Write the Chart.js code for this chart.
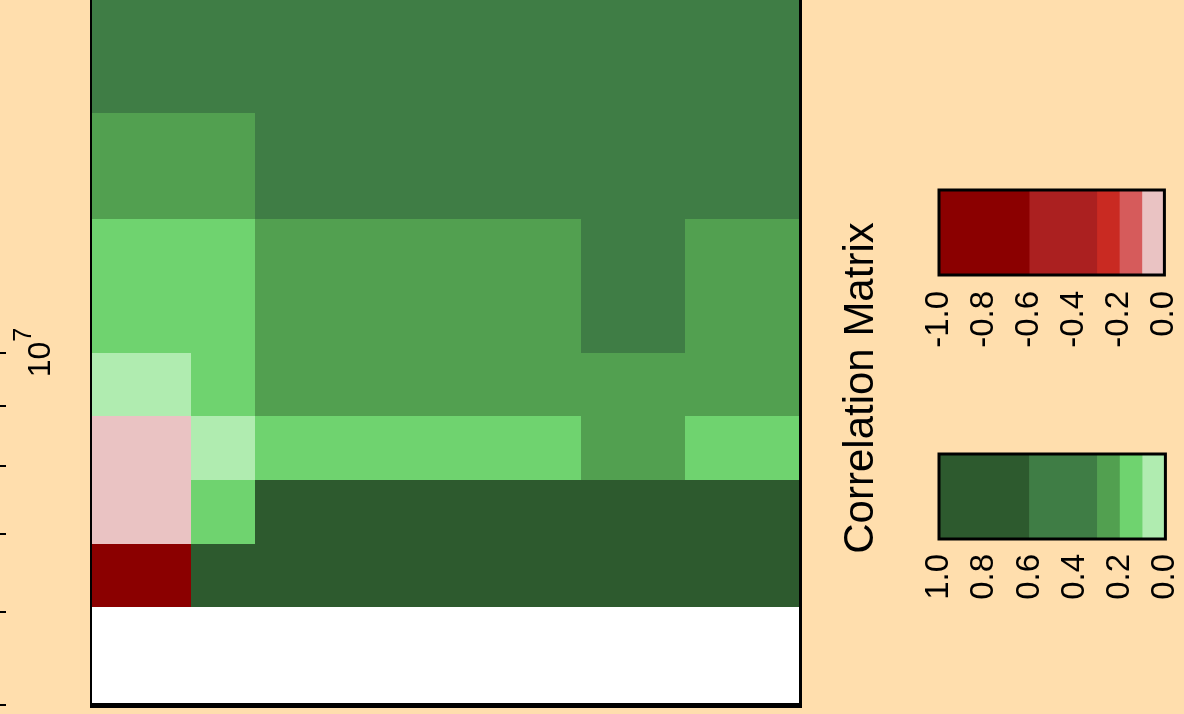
<!DOCTYPE html>
<html>
<head>
<meta charset="utf-8">
<title>Correlation Matrix</title>
<script src="https://cdn.jsdelivr.net/npm/chart.js@4.4.1/dist/chart.umd.min.js"></script>
<style>
    html, body { margin: 0; padding: 0; background: #ffdead; overflow: hidden; }
    #wrap { position: relative; width: 1184px; height: 714px; overflow: hidden; }
    canvas { position: absolute; }
    #main { left: 0; top: 0; }
    #keyNeg { left: 900px; top: 170px; }
    #keyPos { left: 900px; top: 434px; }
</style>
</head>
<body>
<div id="wrap">
    <canvas id="main" width="1184" height="714"></canvas>
    <canvas id="keyNeg" width="320" height="200"></canvas>
    <canvas id="keyPos" width="320" height="200"></canvas>
</div>
<script>
const FONT = '"Liberation Sans", Arial, Helvetica, sans-serif';

// heatmap grid: x in % of the panel width, y on the log axis
const colEdges = [0, 14, 23, 69, 83.8, 100];
const rowEdges = [6.06e6, 6.86e6, 7.78e6, 8.82e6, 1.0e7, 1.3e7, 1.6e7, 2.0e7];

// one row per band, bottom band first
const corrRows = [
    [-0.75, 0.8, 0.85, 0.85, 0.8],
    [-0.05, 0.15, 0.7, 0.7, 0.7],
    [-0.05, 0.05, 0.15, 0.25, 0.15],
    [0.05, 0.15, 0.25, 0.25, 0.25],
    [0.15, 0.15, 0.25, 0.45, 0.25],
    [0.25, 0.25, 0.45, 0.45, 0.45],
    [0.45, 0.45, 0.45, 0.45, 0.45]
];

const colourBreaks = [-1, -0.6, -0.3, -0.2, -0.1, 0, 0.1, 0.2, 0.3, 0.6, 1];
const colourFills = ['#8b0000', '#ab2020', '#c92a22', '#d65b5b', '#eac3c3',
                     '#b0ecb0', '#6fd36f', '#52a050', '#3f7d45', '#2d5a2e'];

// left axis (log scale)
const axisTicks = [5e6, 6e6, 7e6, 8e6, 9e6, 1e7];
const axisLabelValue = 1e7;
const axisLabelBase = '10';
const axisLabelExp = '7';

const negKeyTicks = [-1, -0.8, -0.6, -0.4, -0.2, 0];
const posKeyTicks = [1, 0.8, 0.6, 0.4, 0.2, 0];
const keyTitle = 'Correlation Matrix';

function colourFor(v) {
    for (let i = 0; i < colourFills.length; i++) {
        if (v >= colourBreaks[i] && v < colourBreaks[i + 1]) return colourFills[i];
    }
    return colourFills[colourFills.length - 1];
}

const heatmapPlugin = {
    id: 'heatmap',
    beforeDatasetsDraw(chart) {
        const { ctx, chartArea: a, scales: { x, y } } = chart;
        ctx.save();
        ctx.fillStyle = '#ffffff';
        ctx.fillRect(a.left, a.top, a.right - a.left, a.bottom - a.top);
        corrRows.forEach((row, r) => {
            const yTop = Math.round(y.getPixelForValue(rowEdges[r + 1]));
            const yBot = Math.round(y.getPixelForValue(rowEdges[r]));
            row.forEach((v, c) => {
                const x0 = Math.round(x.getPixelForValue(colEdges[c]));
                const x1 = Math.round(x.getPixelForValue(colEdges[c + 1]));
                ctx.fillStyle = colourFor(v);
                ctx.fillRect(x0, yTop, x1 - x0, yBot - yTop);
            });
        });
        ctx.restore();
    },
    afterDraw(chart) {
        const { ctx, chartArea: a, scales: { y } } = chart;
        ctx.save();
        ctx.strokeStyle = '#000';

        // panel frame (top is cut off)
        ctx.lineWidth = 2;
        ctx.beginPath();
        ctx.moveTo(a.left - 1, a.top);
        ctx.lineTo(a.left - 1, a.bottom + 3);
        ctx.stroke();
        ctx.lineWidth = 3;
        ctx.beginPath();
        ctx.moveTo(a.right + 0.5, a.top);
        ctx.lineTo(a.right + 0.5, a.bottom + 3);
        ctx.stroke();
        ctx.lineWidth = 5;
        ctx.beginPath();
        ctx.moveTo(a.left - 2, a.bottom + 0.5);
        ctx.lineTo(a.right + 2, a.bottom + 0.5);
        ctx.stroke();

        // left axis ticks
        ctx.lineWidth = 2;
        axisTicks.forEach(v => {
            const py = Math.round(y.getPixelForValue(v));
            ctx.beginPath();
            ctx.moveTo(0, py);
            ctx.lineTo(6, py);
            ctx.stroke();
        });

        // 10^7 label
        ctx.fillStyle = '#000';
        ctx.textBaseline = 'alphabetic';
        ctx.textAlign = 'left';
        ctx.translate(50, y.getPixelForValue(axisLabelValue));
        ctx.rotate(-Math.PI / 2);
        ctx.font = '32px ' + FONT;
        const wBase = ctx.measureText(axisLabelBase).width;
        ctx.font = '25px ' + FONT;
        const wExp = ctx.measureText(axisLabelExp).width;
        const start = -(wBase + wExp) / 2;
        ctx.font = '32px ' + FONT;
        ctx.fillText(axisLabelBase, start, 0);
        ctx.font = '25px ' + FONT;
        ctx.fillText(axisLabelExp, start + wBase, -19);
        ctx.restore();

        // key title
        ctx.save();
        ctx.fillStyle = '#000';
        ctx.font = '42px ' + FONT;
        ctx.textAlign = 'center';
        ctx.textBaseline = 'alphabetic';
        ctx.translate(873, 388);
        ctx.rotate(-Math.PI / 2);
        ctx.fillText(keyTitle, 0, 0);
        ctx.restore();
    }
};

new Chart(document.getElementById('main'), {
    type: 'scatter',
    data: { datasets: [{ data: [] }] },
    options: {
        responsive: false,
        animation: false,
        layout: { padding: { left: 92, right: 384, top: 0, bottom: 9 } },
        plugins: { legend: { display: false }, tooltip: { enabled: false } },
        scales: {
            x: { type: 'linear', min: 0, max: 100, display: false },
            y: { type: 'logarithmic', min: 5e6, max: 2e7, display: false }
        }
    },
    plugins: [heatmapPlugin]
});

const keyFrame = {
    id: 'keyFrame',
    afterDatasetsDraw(chart) {
        const { ctx, chartArea: a } = chart;
        ctx.save();
        ctx.strokeStyle = '#000';
        ctx.lineWidth = 3;
        ctx.strokeRect(a.left, a.top, a.right - a.left, a.bottom - a.top);
        ctx.restore();
    }
};

function makeKey(id, min, max, tickValues, reverse, labelPad) {
    const bins = [];
    for (let i = 0; i < colourFills.length; i++) {
        if (colourBreaks[i] >= min && colourBreaks[i + 1] <= max) bins.push(i);
    }
    return new Chart(document.getElementById(id), {
        type: 'bar',
        data: {
            labels: [''],
            datasets: bins.map(i => ({
                data: [[colourBreaks[i], colourBreaks[i + 1]]],
                backgroundColor: colourFills[i],
                borderWidth: 0,
                grouped: false,
                barPercentage: 1,
                categoryPercentage: 1
            }))
        },
        options: {
            indexAxis: 'y',
            responsive: false,
            animation: false,
            layout: { padding: { left: 39, right: 53, top: 20, bottom: 0 } },
            plugins: { legend: { display: false }, tooltip: { enabled: false } },
            scales: {
                y: { display: false },
                x: {
                    type: 'linear',
                    min: min,
                    max: max,
                    reverse: reverse,
                    grid: { display: false, drawTicks: false },
                    border: { display: false },
                    afterBuildTicks: s => { s.ticks = tickValues.map(v => ({ value: v })); },
                    afterFit: s => { s.height = 95; },
                    ticks: {
                        color: '#000',
                        font: { family: FONT, size: 33 },
                        minRotation: 90,
                        maxRotation: 90,
                        autoSkip: false,
                        padding: labelPad,
                        callback: v => (Math.abs(v) < 1e-9 ? 0 : v).toFixed(1)
                    }
                }
            }
        },
        plugins: [keyFrame]
    });
}

makeKey('keyNeg', -1, 0, negKeyTicks, false, 16);
makeKey('keyPos', 0, 1, posKeyTicks, true, 15);
</script>
</body>
</html>
